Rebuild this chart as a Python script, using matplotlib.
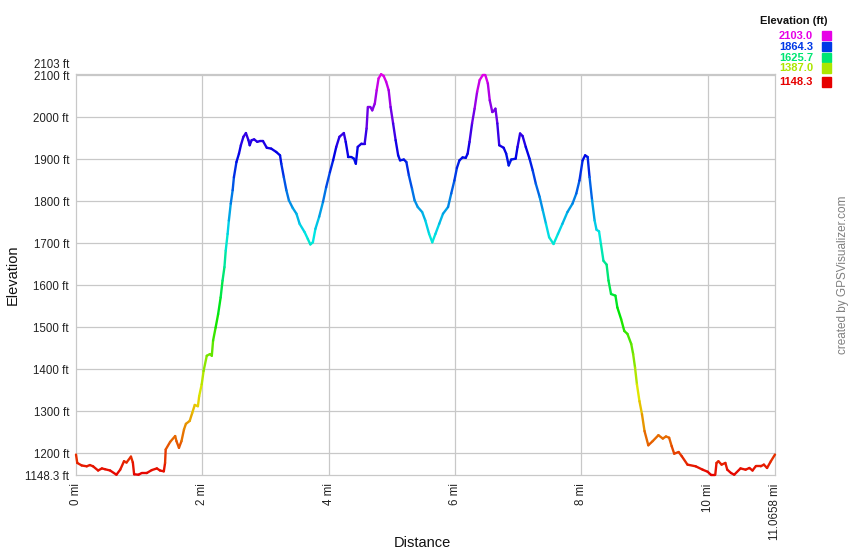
import matplotlib
matplotlib.use("Agg")
import matplotlib.pyplot as plt
import matplotlib.transforms as mtrans
import numpy as np
from matplotlib.collections import LineCollection
from matplotlib.colors import hsv_to_rgb
from matplotlib.patches import Rectangle

plt.rcParams['font.family'] = ['Liberation Sans', 'DejaVu Sans']

# elevation profile (miles, feet)
dist = [0.00, 0.02, 0.09, 0.17, 0.22, 0.27, 0.35, 0.41, 0.46, 0.54, 0.64, 0.70,
        0.76, 0.80, 0.87, 0.90, 0.92, 0.99, 1.04, 1.12, 1.20, 1.28, 1.33, 1.39,
        1.41, 1.42, 1.49, 1.57, 1.59, 1.63, 1.67, 1.71, 1.74, 1.80, 1.84, 1.88,
        1.93, 1.95, 1.99, 2.02, 2.07, 2.12, 2.15, 2.17, 2.21, 2.25, 2.29, 2.32,
        2.35, 2.37, 2.40, 2.42, 2.45, 2.48, 2.50, 2.54, 2.58, 2.61, 2.65, 2.69,
        2.73, 2.75, 2.78, 2.82, 2.87, 2.91, 2.96, 3.02, 3.09, 3.17, 3.23, 3.25,
        3.29, 3.33, 3.37, 3.43, 3.49, 3.54, 3.62, 3.67, 3.71, 3.75, 3.79, 3.85,
        3.91, 3.96, 4.02, 4.07, 4.12, 4.17, 4.24, 4.27, 4.31, 4.36, 4.40, 4.43,
        4.46, 4.52, 4.57, 4.60, 4.62, 4.66, 4.69, 4.73, 4.76, 4.79, 4.83, 4.87,
        4.91, 4.95, 4.98, 5.02, 5.06, 5.10, 5.13, 5.19, 5.23, 5.27, 5.32, 5.36,
        5.41, 5.48, 5.53, 5.59, 5.64, 5.69, 5.75, 5.81, 5.89, 5.94, 5.99, 6.03,
        6.07, 6.12, 6.17, 6.20, 6.23, 6.27, 6.31, 6.35, 6.39, 6.44, 6.48, 6.52,
        6.55, 6.59, 6.61, 6.64, 6.67, 6.70, 6.77, 6.81, 6.85, 6.89, 6.96, 6.99,
        7.03, 7.07, 7.12, 7.18, 7.23, 7.28, 7.34, 7.39, 7.44, 7.49, 7.56, 7.63,
        7.70, 7.78, 7.86, 7.92, 7.97, 8.02, 8.06, 8.10, 8.13, 8.17, 8.21, 8.24,
        8.28, 8.31, 8.35, 8.40, 8.43, 8.47, 8.54, 8.57, 8.63, 8.68, 8.73, 8.79,
        8.82, 8.85, 8.88, 8.92, 8.96, 9.00, 9.06, 9.13, 9.22, 9.29, 9.34, 9.39,
        9.43, 9.47, 9.54, 9.59, 9.68, 9.81, 9.92, 10.00, 10.05, 10.12, 10.14, 10.17,
        10.22, 10.28, 10.31, 10.37, 10.42, 10.52, 10.60, 10.66, 10.71, 10.76, 10.84, 10.89,
        10.94, 11.00, 11.0658]
elev = [1197, 1177, 1171, 1169, 1172, 1169, 1159, 1164, 1162, 1159, 1149, 1161,
        1181, 1178, 1192, 1178, 1150, 1149, 1153, 1153, 1160, 1164, 1159, 1157,
        1177, 1209, 1227, 1241, 1229, 1213, 1229, 1257, 1270, 1277, 1296, 1315,
        1312, 1336, 1364, 1396, 1432, 1436, 1432, 1468, 1499, 1531, 1571, 1611,
        1643, 1682, 1722, 1754, 1794, 1826, 1857, 1893, 1913, 1933, 1953, 1962,
        1945, 1933, 1945, 1947, 1941, 1943, 1943, 1927, 1925, 1917, 1909, 1889,
        1857, 1826, 1802, 1784, 1770, 1746, 1726, 1710, 1697, 1702, 1734, 1763,
        1798, 1833, 1869, 1897, 1929, 1953, 1962, 1941, 1905, 1905, 1901, 1889,
        1929, 1937, 1937, 1973, 2024, 2024, 2016, 2032, 2064, 2092, 2102, 2098,
        2084, 2064, 2024, 1985, 1945, 1909, 1897, 1899, 1893, 1861, 1829, 1802,
        1786, 1774, 1754, 1722, 1702, 1722, 1746, 1770, 1786, 1818, 1849, 1879,
        1897, 1904, 1903, 1913, 1941, 1985, 2020, 2060, 2088, 2100, 2100, 2080,
        2040, 2012, 2014, 2020, 1985, 1933, 1927, 1913, 1885, 1899, 1901, 1929,
        1961, 1955, 1929, 1901, 1873, 1841, 1810, 1778, 1746, 1714, 1698, 1722,
        1746, 1774, 1794, 1818, 1849, 1897, 1909, 1905, 1857, 1802, 1754, 1732,
        1728, 1698, 1658, 1649, 1611, 1579, 1575, 1547, 1519, 1491, 1484, 1460,
        1436, 1404, 1364, 1324, 1293, 1253, 1219, 1229, 1243, 1235, 1240, 1237,
        1217, 1199, 1203, 1193, 1173, 1169, 1161, 1156, 1149, 1149, 1177, 1181,
        1173, 1177, 1161, 1153, 1149, 1164, 1161, 1165, 1159, 1169, 1169, 1173,
        1165, 1181, 1197]

elev_min = 1148.3
elev_max = 2103.0
total_dist = 11.0658
legend_values = [2103.0, 1864.3, 1625.7, 1387.0, 1148.3]
y_ticks = [1148.3, 1200, 1300, 1400, 1500, 1600, 1700, 1800, 1900, 2000, 2100, 2103]
x_ticks = [0, 2, 4, 6, 8, 10, 11.0658]


def elev_color(e):
    # red (low) -> magenta (high) along the hue wheel
    h = 300.0 * (e - elev_min) / (elev_max - elev_min) / 360.0
    h = min(max(h, 0.0), 300.0 / 360.0)
    return hsv_to_rgb((h, 1.0, 0.9))


fig = plt.figure(figsize=(8.5, 5.5), dpi=100)
ax = fig.add_axes([76 / 850, 1 - 475 / 550, 699 / 850, (475 - 73.8) / 550])

x = np.array(dist)
y = np.array(elev)
pts = np.column_stack([x, y]).reshape(-1, 1, 2)
segs = np.concatenate([pts[:-1], pts[1:]], axis=1)
cols = [elev_color((a + b) / 2) for a, b in zip(y[:-1], y[1:])]
lc = LineCollection(segs, colors=cols, linewidths=1.7, capstyle='round',
                    joinstyle='round', zorder=3, clip_on=False)
ax.add_collection(lc)

ax.set_xlim(0, total_dist)
ax.set_ylim(elev_min, elev_max)

grid_c = '#c8c8c8'
for s in ax.spines.values():
    s.set_color(grid_c)
    s.set_linewidth(0.9)

ax.set_yticks(y_ticks)
ax.set_yticklabels([('%g' % v if v != 1148.3 else '1148.3') + ' ft' for v in y_ticks])
ax.set_xticks(x_ticks)
ax.set_xticklabels(['%g mi' % v for v in x_ticks], rotation=90)
ax.tick_params(axis='both', length=0, labelsize=8.3, colors='#222222')
ax.tick_params(axis='y', pad=5)
ax.tick_params(axis='x', pad=6)
up = mtrans.ScaledTranslation(0, 3 / 100, fig.dpi_scale_trans)
for lab in ax.get_yticklabels():
    if lab.get_text() == '2103 ft':
        lab.set_va('bottom')
        lab.set_transform(lab.get_transform() + up)

for v in y_ticks[1:-1]:
    ax.axhline(v, color=grid_c, lw=0.9, zorder=1)
for v in x_ticks[1:-1]:
    ax.axvline(v, color=grid_c, lw=0.9, zorder=1)

ax.set_ylabel('Elevation', fontsize=10.5, color='#111111', ha='center', va='center')
ax.yaxis.set_label_coords(-0.090, 0.5)
ax.set_xlabel('Distance', fontsize=10.5, color='#111111', ha='center', va='center')
ax.xaxis.set_label_coords(0.496, -0.170)

fig.text(843 / 850, 1 - 275 / 550, 'created by GPSVisualizer.com', rotation=90,
         ha='center', va='center', fontsize=8.5, color='#808080')

# colour legend, top right
fig.text(828 / 850, 1 - 20.5 / 550, 'Elevation (ft)', ha='right', va='center',
         fontsize=8, fontweight='bold', color='#111111')
leg_y = [35.7, 46.7, 57.7, 68.3, 82.3]
for v, py in zip(legend_values, leg_y):
    c = elev_color(v)
    fig.text(813 / 850, 1 - py / 550, '%.1f' % v, ha='right', va='center',
             fontsize=8, fontweight='bold', color=c)
    fig.patches.append(Rectangle((821.5 / 850, 1 - (py + 4.5) / 550), 9.5 / 850, 9.5 / 550,
                                 transform=fig.transFigure, color=c, figure=fig))

fig.savefig('out.png', dpi=100)
